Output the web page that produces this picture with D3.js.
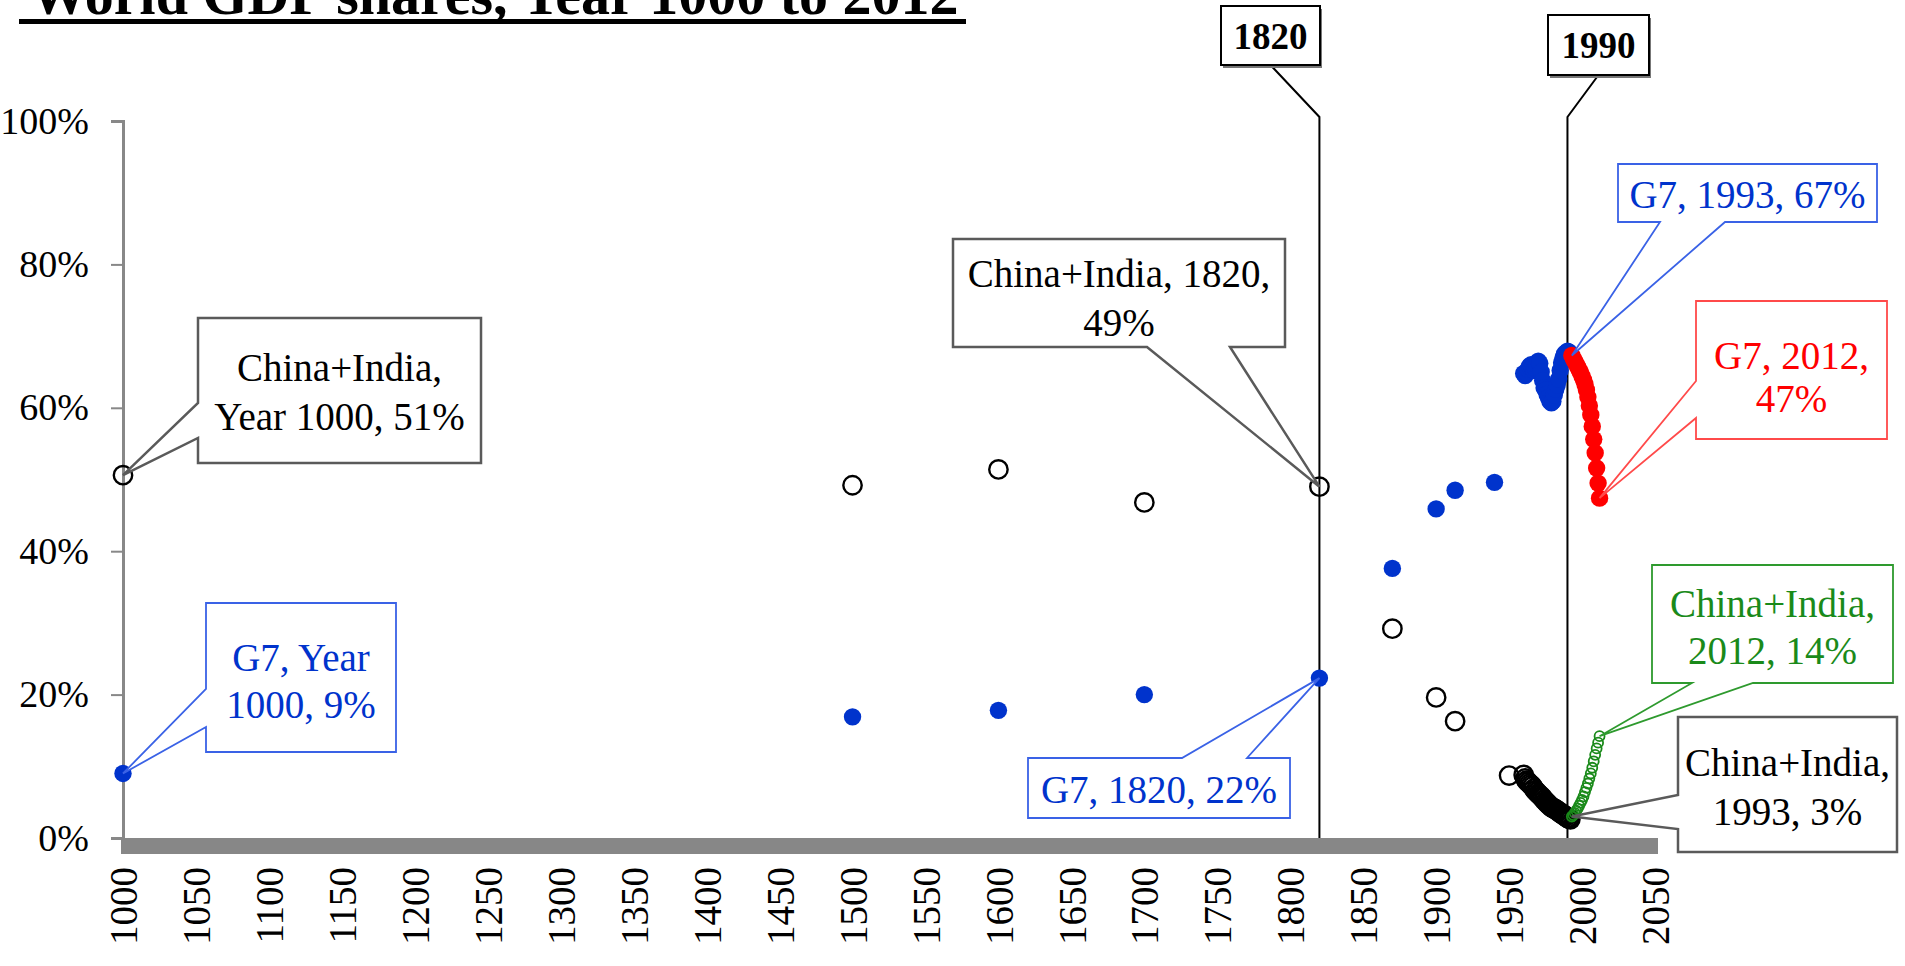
<!DOCTYPE html>
<html>
<head>
<meta charset="UTF-8">
<script src="https://cdn.jsdelivr.net/npm/d3@7"></script>
<style>
  body { margin: 0; background: #fff; }
  svg text { font-family: "Liberation Serif", "Times New Roman", serif; }
</style>
</head>
<body>
<svg id="chart" width="1905" height="966"></svg>
<script>
// share of world GDP, percent
const ciYears = [1000, 1500, 1600, 1700, 1820, 1870, 1900, 1913, 1950,
  1960, 1961, 1962, 1963, 1964, 1965, 1966, 1967, 1968, 1969, 1970, 1971, 1972, 1973, 1974, 1975, 1976,
  1977, 1978, 1979, 1980, 1981, 1982, 1983, 1984, 1985, 1986, 1987, 1988, 1989, 1990, 1991, 1992];
const ciShares = [50.6, 49.2, 51.4, 46.8, 49.0, 29.2, 19.6, 16.3, 8.7,
  8.8, 8.3, 8.0, 7.8, 7.6, 7.4, 7.2, 6.9, 6.6, 6.4, 6.2, 6.0, 5.8, 5.6, 5.3, 5.1, 4.9,
  4.7, 4.5, 4.3, 4.2, 4.1, 4.0, 3.8, 3.7, 3.5, 3.4, 3.3, 3.1, 3.0, 2.8, 2.7, 2.6];

const g7Years = [1000, 1500, 1600, 1700, 1820, 1870, 1900, 1913, 1940,
  1960, 1961, 1962, 1963, 1964, 1965, 1966, 1967, 1968, 1969, 1970, 1971, 1972, 1973, 1974, 1975, 1976,
  1977, 1978, 1979, 1980, 1981, 1982, 1983, 1984, 1985, 1986, 1987, 1988, 1989, 1990, 1991, 1992];
const g7Shares = [9.0, 16.9, 17.8, 20.0, 22.3, 37.6, 45.9, 48.5, 49.6,
  64.8, 64.5, 64.9, 65.4, 65.8, 66.0, 65.6, 65.2, 65.5, 66.0, 66.5, 66.2, 65.0, 63.8, 62.8, 62.5, 61.9,
  61.4, 60.9, 60.7, 60.9, 61.8, 62.6, 63.2, 64.0, 65.2, 66.3, 67.0, 67.5, 67.7, 67.9, 67.8, 67.5];

const recentYears = [1993, 1994, 1995, 1996, 1997, 1998, 1999, 2000, 2001, 2002,
  2003, 2004, 2005, 2006, 2007, 2008, 2009, 2010, 2011, 2012];
const g7RecentShares = [67.3, 66.9, 66.5, 66.1, 65.7, 65.3, 64.9, 64.4, 63.9, 63.3,
  62.5, 61.5, 60.3, 59.0, 57.4, 55.6, 53.7, 51.6, 49.5, 47.4];
const ciRecentShares = [3.0, 3.2, 3.5, 3.8, 4.1, 4.5, 4.9, 5.3, 5.8, 6.4,
  7.0, 7.6, 8.3, 9.0, 9.8, 10.7, 11.6, 12.5, 13.3, 14.2];

const xTicks = [1000, 1050, 1100, 1150, 1200, 1250, 1300, 1350, 1400, 1450, 1500, 1550,
  1600, 1650, 1700, 1750, 1800, 1850, 1900, 1950, 2000, 2050];
const yTicks = [0, 20, 40, 60, 80, 100];
const markerYears = ["1820", "1990"];

const svg = d3.select("#chart");
const x = d3.scaleLinear().domain([1000, 2050]).range([123, 1655]);
const y = d3.scaleLinear().domain([0, 100]).range([838, 121]);

// title (top is cut off in the original slide crop)
svg.append("text").attr("x", 30).attr("y", 14)
  .attr("font-size", 58).attr("font-weight", "bold")
  .text("World GDP shares, Year 1000 to 2012");
svg.append("rect").attr("x", 19).attr("y", 19).attr("width", 947).attr("height", 5).attr("fill", "#000");

// y axis
const yAxis = svg.append("g").attr("transform", "translate(123,0)")
  .call(d3.axisLeft(y).tickValues(yTicks).tickSize(12).tickPadding(22).tickFormat(d => d + "%"));
yAxis.select(".domain").attr("stroke", "#888").attr("stroke-width", 3);
yAxis.selectAll(".tick line").attr("stroke", "#888").attr("stroke-width", 2);
yAxis.selectAll("text").attr("font-size", 38).attr("fill", "#000")
  .style("font-family", '"Liberation Serif", serif');

// x axis: thick grey bar plus rotated labels
svg.append("rect").attr("x", x(1000) - 2).attr("y", y(0)).attr("width", x(2050) - x(1000) + 5)
  .attr("height", 16).attr("fill", "#878787");
const xAxis = svg.append("g").attr("transform", `translate(0,${y(0)})`)
  .call(d3.axisBottom(x).tickValues(xTicks).tickSize(0).tickFormat(d3.format("d")));
xAxis.select(".domain").remove();
xAxis.selectAll("text")
  .attr("font-size", 39).attr("fill", "#000")
  .style("font-family", '"Liberation Serif", serif')
  .attr("text-anchor", "end").attr("x", -29).attr("y", 0).attr("dy", "0.35em")
  .attr("transform", "rotate(-90)");

// marker lines for 1820 and 1990
const markerBoxes = [[1221, 6, 1320, 65], [1548, 15, 1649, 75]];
markerYears.forEach((lab, i) => {
  const b = markerBoxes[i];
  const xx = x(+lab);
  svg.append("path")
    .attr("d", d3.line()([[(b[0] + b[2]) / 2, b[3]], [xx, 117], [xx, y(0)]]))
    .attr("fill", "none").attr("stroke", "#000").attr("stroke-width", 2);
  svg.append("rect").attr("x", b[0] + 2).attr("y", b[1] + 3).attr("width", b[2] - b[0]).attr("height", b[3] - b[1])
    .attr("fill", "#777");
  svg.append("rect").attr("x", b[0]).attr("y", b[1]).attr("width", b[2] - b[0]).attr("height", b[3] - b[1])
    .attr("fill", "#fff").attr("stroke", "#000").attr("stroke-width", 2);
  svg.append("text").attr("x", (b[0] + b[2]) / 2).attr("y", (b[1] + b[3]) / 2).attr("dy", "0.36em")
    .attr("text-anchor", "middle").attr("font-size", 37).attr("font-weight", "bold").text(lab);
});

// series
const blue = "#0033cc", red = "#ff0000", green = "#1a8a1a";
const ciPts = ciYears.map((d, i) => [d, ciShares[i]]);
const g7Pts = g7Years.map((d, i) => [d, g7Shares[i]]);
const g7Recent = recentYears.map((d, i) => [d, g7RecentShares[i]]);
const ciRecent = recentYears.map((d, i) => [d, ciRecentShares[i]]);

svg.append("g").selectAll("circle").data(g7Pts).join("circle")
  .attr("cx", d => x(d[0])).attr("cy", d => y(d[1])).attr("r", 8.7).attr("fill", blue);
svg.append("g").selectAll("circle").data(g7Recent).join("circle")
  .attr("cx", d => x(d[0])).attr("cy", d => y(d[1])).attr("r", 8.7).attr("fill", red);
svg.append("g").selectAll("circle").data(ciPts).join("circle")
  .attr("cx", d => x(d[0])).attr("cy", d => y(d[1])).attr("r", 9.2)
  .attr("fill", "none").attr("stroke", "#000").attr("stroke-width", 2.4);
svg.append("g").selectAll("circle").data(ciRecent).join("circle")
  .attr("cx", d => x(d[0])).attr("cy", d => y(d[1])).attr("r", 5)
  .attr("fill", "none").attr("stroke", green).attr("stroke-width", 1.8);

// callouts
const find = (pts, yr) => pts.find(p => p[0] === yr);
const callouts = [
  { pt: find(ciPts, 1000), box: [198, 318, 481, 463], side: "left", base: [403, 438],
    lines: ["China+India,", "Year 1000, 51%"], ly: [367, 416], stroke: "#5a5a5a", fill: "#000", sw: 2.5 },
  { pt: find(g7Pts, 1000), box: [206, 603, 396, 752], side: "left", base: [689, 727],
    lines: ["G7, Year", "1000, 9%"], ly: [657, 704], stroke: "#3a62e6", fill: blue, sw: 1.8 },
  { pt: find(ciPts, 1820), box: [953, 239, 1285, 347], side: "bottom", base: [1147, 1230],
    lines: ["China+India, 1820,", "49%"], ly: [273, 322], stroke: "#5a5a5a", fill: "#000", sw: 2.5 },
  { pt: find(g7Pts, 1820), box: [1028, 758, 1290, 818], side: "top", base: [1182, 1247],
    lines: ["G7, 1820, 22%"], ly: [789], stroke: "#3a62e6", fill: blue, sw: 1.8 },
  { pt: find(g7Recent, 1993), box: [1618, 164, 1877, 222], side: "bottom", base: [1660, 1725],
    lines: ["G7, 1993, 67%"], ly: [194], stroke: "#3a62e6", fill: blue, sw: 1.8 },
  { pt: find(g7Recent, 2012), box: [1696, 301, 1887, 439], side: "left", base: [381, 418],
    lines: ["G7, 2012,", "47%"], ly: [355, 398], stroke: "#ff4a4a", fill: red, sw: 1.8 },
  { pt: find(ciRecent, 2012), box: [1652, 565, 1893, 683], side: "bottom", base: [1692, 1753],
    lines: ["China+India,", "2012, 14%"], ly: [603, 650], stroke: "#2e9a2e", fill: green, sw: 1.8 },
  { pt: find(ciRecent, 1993), box: [1678, 717, 1897, 852], side: "left", base: [795, 829],
    lines: ["China+India,", "1993, 3%"], ly: [762, 811], stroke: "#5a5a5a", fill: "#000", sw: 2.5 }
];

function calloutPoints(c) {
  const [x1, y1, x2, y2] = c.box;
  const tip = [x(c.pt[0]), y(c.pt[1])];
  const [a, b] = c.base;
  if (c.side === "left")
    return [[x1, y1], [x2, y1], [x2, y2], [x1, y2], [x1, b], tip, [x1, a]];
  if (c.side === "bottom")
    return [[x1, y1], [x2, y1], [x2, y2], [b, y2], tip, [a, y2], [x1, y2]];
  return [[x1, y1], [a, y1], tip, [b, y1], [x2, y1], [x2, y2], [x1, y2]];
}

const cg = svg.append("g").selectAll("g").data(callouts).join("g");
cg.append("path")
  .attr("d", c => d3.line()(calloutPoints(c)) + "Z")
  .attr("fill", "#fff").attr("stroke", c => c.stroke).attr("stroke-width", c => c.sw)
  .attr("stroke-linejoin", "miter");
cg.each(function (c) {
  const g = d3.select(this);
  c.lines.forEach((t, i) => {
    g.append("text").attr("x", (c.box[0] + c.box[2]) / 2).attr("y", c.ly[i]).attr("dy", "0.35em")
      .attr("text-anchor", "middle").attr("font-size", 39).attr("fill", c.fill).text(t);
  });
});
</script>
</body>
</html>
